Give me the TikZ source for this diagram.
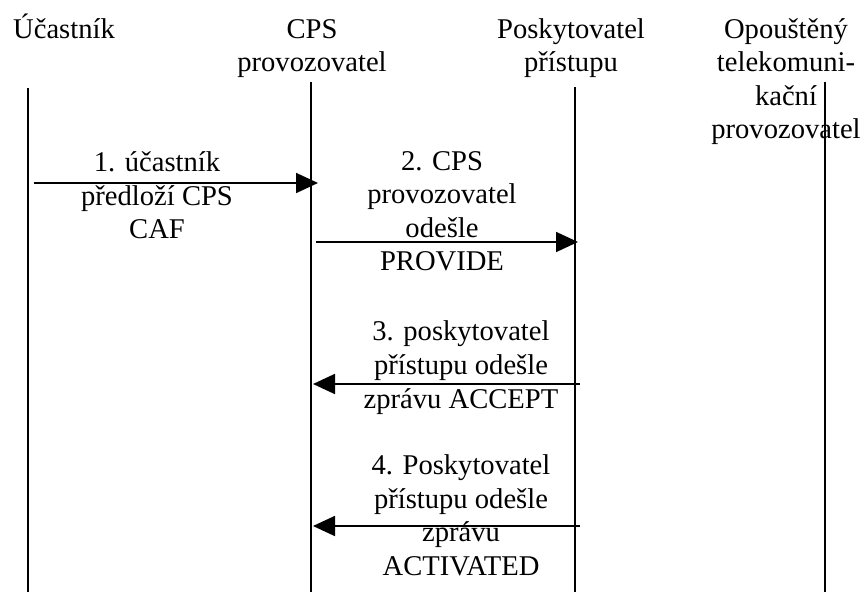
\documentclass[tikz,border=0pt]{standalone}
\usepackage{fontspec}
\setmainfont{Liberation Serif}
\usetikzlibrary{arrows.meta}
\tikzset{>={Triangle[length=11pt,width=10pt]}}
\tikzset{
  actor/.style={align=center, anchor=base, inner sep=0pt},
  msgtext/.style={align=center, anchor=base, inner sep=0pt},
  lifeline/.style={line width=0.9pt},
  call/.style={->, line width=0.9pt}
}

\begin{document}
\begin{tikzpicture}[x=0.5pt, y=-0.5pt, font=\fontsize{14.3}{16.75}\selectfont]
\useasboundingbox (0,0) rectangle (865,592);

% účastníci (base = poslední řádek)
\node[actor] (ucastnik) at (64,39) {Účastník};
\node[actor] (cps) at (312,72) {CPS\\provozovatel};
\node[actor] (poskytovatel) at (571,72) {Poskytovatel\\přístupu};
\node[actor] (opousteny) at (786,139) {Opouštěný\\telekomuni-\\kační\\provozovatel};

% časové osy
\coordinate (ucastnik top) at (28,88);
\coordinate (ucastnik bottom) at (28,592);
\coordinate (cps top) at (311,82);
\coordinate (cps bottom) at (311,592);
\coordinate (poskytovatel top) at (575,87);
\coordinate (poskytovatel bottom) at (575,592);
\coordinate (opousteny top) at (825,82);
\coordinate (opousteny bottom) at (825,592);
\draw[lifeline] (ucastnik top) -- (ucastnik bottom);
\draw[lifeline] (cps top) -- (cps bottom);
\draw[lifeline] (poskytovatel top) -- (poskytovatel bottom);
\draw[lifeline] (opousteny top) -- (opousteny bottom);

% zprávy
\coordinate (m1 from) at (34,183);
\coordinate (m1 to) at (318,183);
\coordinate (m2 from) at (316,242);
\coordinate (m2 to) at (578,242);
\coordinate (m3 from) at (580,384);
\coordinate (m3 to) at (313,384);
\coordinate (m4 from) at (580,526);
\coordinate (m4 to) at (313,526);
\draw[call] (m1 from) -- (m1 to);
\draw[call] (m2 from) -- (m2 to);
\draw[call] (m3 from) -- (m3 to);
\draw[call] (m4 from) -- (m4 to);

\node[msgtext] (m1) at (157,239) {1. účastník\\předloží CPS\\CAF};
\node[msgtext] (m2) at (442,271) {2. CPS\\provozovatel\\odešle\\PROVIDE};
\node[msgtext] (m3) at (461,408) {3. poskytovatel\\přístupu odešle\\zprávu ACCEPT};
\node[msgtext] (m4) at (461,575) {4. Poskytovatel\\přístupu odešle\\zprávu\\ACTIVATED};
\end{tikzpicture}
\end{document}
